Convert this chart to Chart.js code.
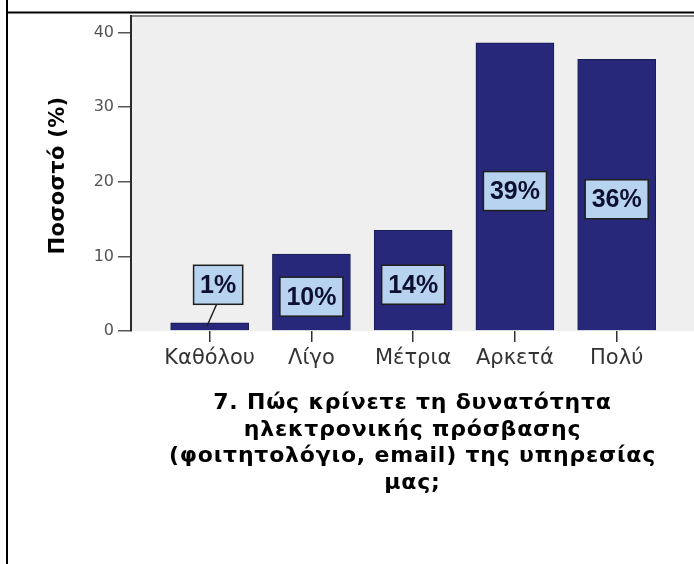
<!DOCTYPE html>
<html>
<head>
<meta charset="utf-8">
<script src="https://cdn.jsdelivr.net/npm/chart.js@4/dist/chart.umd.min.js"></script>
<style>
  html, body { margin: 0; padding: 0; background: #fff; }
  #wrap { position: relative; width: 694px; height: 564px; }
</style>
</head>
<body>
<div id="wrap"><canvas id="chart" width="694" height="564"></canvas></div>
<script>
// ===== DATA =====
const categories = ["Καθόλου", "Λίγο", "Μέτρια", "Αρκετά", "Πολύ"];
const percentValues = [1.1, 10.3, 13.5, 38.6, 36.4];
const yTicks = [0, 10, 20, 30, 40];
const yTitle = "Ποσοστό (%)";
const xTitleLines = [
  "7. Πώς κρίνετε τη δυνατότητα",
  "ηλεκτρονικής πρόσβασης",
  "(φοιτητολόγιο, email) της υπηρεσίας",
  "μας;"
];

// ===== PLUGINS =====
// grey plot background + top border
const plotBackground = {
  id: "plotBackground",
  beforeDraw(chart) {
    const { ctx, chartArea: a } = chart;
    ctx.save();
    ctx.fillStyle = "#efefef";
    ctx.fillRect(a.left, a.top, a.right - a.left, a.bottom - a.top);
    ctx.strokeStyle = "#8a8a8a";
    ctx.lineWidth = 2;
    ctx.beginPath();
    ctx.moveTo(a.left, a.top);
    ctx.lineTo(a.right, a.top);
    ctx.stroke();
    ctx.restore();
  }
};

// percentage boxes on the bars
const barLabels = {
  id: "barLabels",
  afterDatasetsDraw(chart) {
    const { ctx } = chart;
    const meta = chart.getDatasetMeta(0);
    ctx.save();
    ctx.font = "bold 25px 'Liberation Sans', Arial, sans-serif";
    ctx.textAlign = "center";
    ctx.textBaseline = "middle";
    meta.data.forEach((bar, i) => {
      const text = Math.round(percentValues[i]) + "%";
      const w = ctx.measureText(text).width + 13;
      const h = 39;
      let cx = bar.x, cy = (bar.y + bar.base) / 2 + 4.5;
      const small = percentValues[i] < 3;
      if (small) { cx = bar.x + 8.5; cy = bar.y - 38; }
      if (small) {
        // leader line from the box down into the short bar
        ctx.strokeStyle = "#222";
        ctx.lineWidth = 1.5;
        ctx.beginPath();
        ctx.moveTo(bar.x + 7, cy + h / 2);
        ctx.lineTo(bar.x - 3, bar.y + 4);
        ctx.stroke();
      }
      ctx.fillStyle = "#b8d3ef";
      ctx.fillRect(cx - w / 2, cy - h / 2, w, h);
      ctx.strokeStyle = "#1e1e1e";
      ctx.lineWidth = 1.5;
      ctx.strokeRect(cx - w / 2, cy - h / 2, w, h);
      ctx.fillStyle = "#0e1030";
      ctx.fillText(text, cx, cy + 1);
    });
    ctx.restore();
  }
};

// axis titles + outer cell borders
const titlesAndFrame = {
  id: "titlesAndFrame",
  afterDraw(chart) {
    const { ctx, chartArea: a, width, height } = chart;
    ctx.save();
    ctx.fillStyle = "#000";
    ctx.font = "bold 22px 'DejaVu Sans', Verdana, sans-serif";
    ctx.textAlign = "center";
    ctx.textBaseline = "alphabetic";
    ctx.letterSpacing = "0.8px";
    const cx = (a.left + a.right) / 2;
    xTitleLines.forEach((line, i) => {
      ctx.fillText(line, cx, a.bottom + 78 + i * 26.5);
    });
    // y title
    ctx.font = "bold 21px 'DejaVu Sans', Verdana, sans-serif";
    ctx.letterSpacing = "0.3px";
    ctx.translate(59, (a.top + a.bottom) / 2 + 2);
    ctx.rotate(-Math.PI / 2);
    ctx.textBaseline = "middle";
    ctx.fillText(yTitle, 0, 0);
    ctx.restore();

    ctx.save();
    ctx.fillStyle = "#000";
    ctx.fillRect(6, 0, 2, height);
    ctx.fillRect(6, 11.5, width - 6, 2);
    ctx.restore();
  }
};

// ===== CHART =====
const ctx = document.getElementById("chart");
new Chart(ctx, {
  type: "bar",
  data: {
    datasets: [{
      data: percentValues.map((v, i) => ({ x: i + 1, y: v })),
      backgroundColor: "#28287a",
      borderColor: "#1b1b55",
      borderWidth: 1,
      barThickness: 78
    }]
  },
  options: {
    responsive: false,
    animation: false,
    layout: { padding: { top: 16, right: 0, bottom: 0, left: 0 } },
    plugins: { legend: { display: false }, tooltip: { enabled: false } },
    scales: {
      x: {
        type: "linear",
        min: 0.227,
        max: 5.76,
        offset: false,
        afterFit: s => { s.height = 233; },
        border: { display: false },
        grid: { offset: false, drawOnChartArea: false, drawTicks: true, tickLength: 11, color: "#333", lineWidth: 1.5 },
        ticks: {
          stepSize: 1,
          includeBounds: false,
          autoSkip: false,
          maxRotation: 0,
          padding: 4,
          color: "#333",
          font: { family: "'DejaVu Sans', Verdana, sans-serif", size: 21 },
          callback: v => categories[v - 1] || ""
        }
      },
      y: {
        min: 0,
        max: 42.2,
        afterFit: s => { s.width = 131; },
        border: { display: true, color: "#2a2a2a", width: 2 },
        grid: { drawOnChartArea: false, drawTicks: true, tickLength: 13, color: "#555", lineWidth: 1.5 },
        afterBuildTicks: s => { s.ticks = yTicks.map(v => ({ value: v })); },
        ticks: {
          padding: 4,
          color: "#555",
          font: { family: "'DejaVu Sans', Verdana, sans-serif", size: 16 }
        }
      }
    }
  },
  plugins: [plotBackground, barLabels, titlesAndFrame]
});
</script>
</body>
</html>
